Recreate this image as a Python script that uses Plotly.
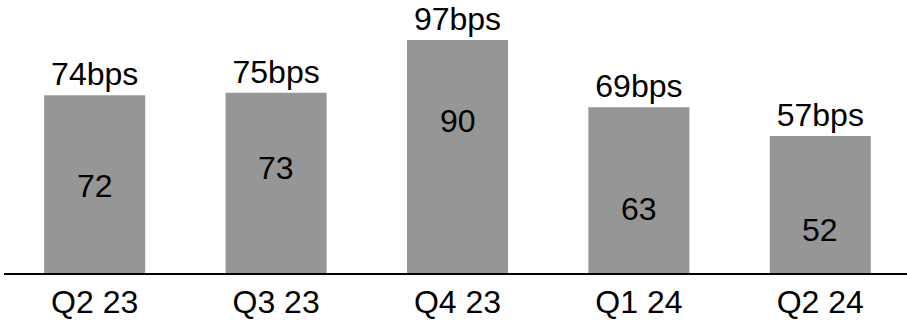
import plotly.graph_objects as go

categories = ["Q2 23", "Q3 23", "Q4 23", "Q1 24", "Q2 24"]
total_bps = [74, 75, 97, 69, 57]
inner_values = [72, 73, 90, 63, 52]
inner_label_pos = [36.0, 43.7, 63.3, 26.8, 17.8]

FONT = "Liberation Sans, Arial, sans-serif"
BAR_COLOR = "#969696"
FS = 32

fig = go.Figure()
fig.add_trace(go.Bar(
    x=categories,
    y=total_bps,
    width=0.557,
    marker=dict(color=BAR_COLOR, line=dict(width=0)),
    text=[f"{v}bps" for v in total_bps],
    textposition="outside",
    constraintext="none",
    cliponaxis=False,
    outsidetextfont=dict(family=FONT, size=FS, color="#000000"),
    hoverinfo="skip",
))

for cat, val, pos in zip(categories, inner_values, inner_label_pos):
    fig.add_annotation(
        x=cat, y=pos, text=str(val), showarrow=False,
        xanchor="center", yanchor="middle",
        font=dict(family=FONT, size=FS, color="#000000"),
    )

fig.update_layout(
    width=907, height=321,
    margin=dict(l=4, r=0, t=0, b=48),
    plot_bgcolor="white", paper_bgcolor="white",
    showlegend=False,
    font=dict(family=FONT, size=FS, color="#000000"),
)
fig.update_xaxes(
    range=[-0.5, 4.478],
    showline=True, linecolor="#000000", linewidth=2,
    ticks="", showgrid=False, zeroline=False,
    tickfont=dict(family=FONT, size=FS, color="#000000"),
    automargin=False,
)
fig.update_yaxes(
    range=[0, 113.6],
    visible=False, showgrid=False, zeroline=False,
    automargin=False,
)

fig.write_html("out.html")
